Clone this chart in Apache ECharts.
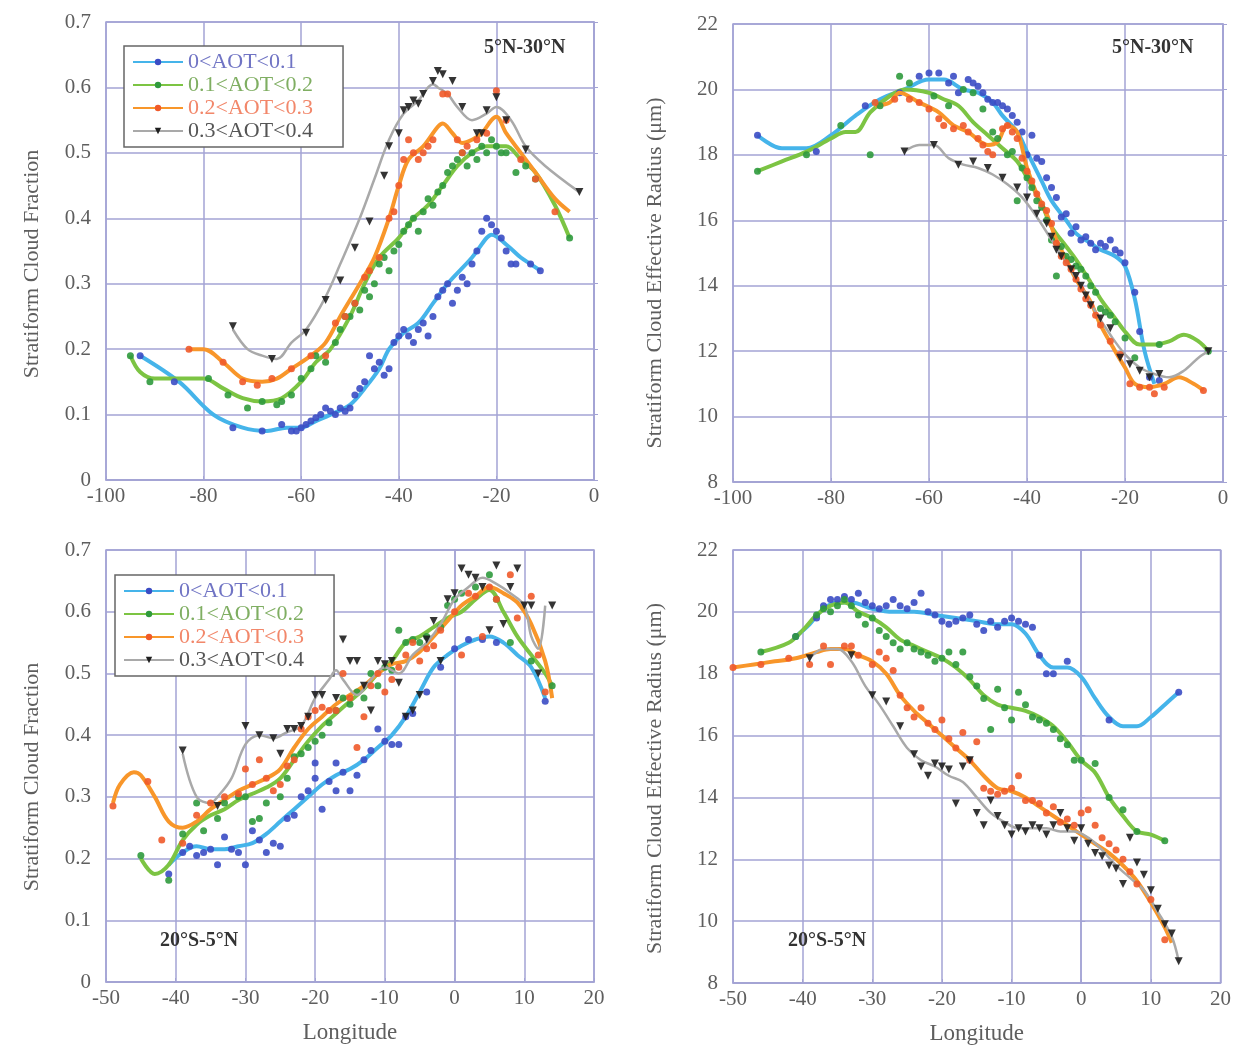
<!DOCTYPE html>
<html>
<head>
<meta charset="utf-8">
<script src="https://cdn.jsdelivr.net/npm/echarts@6/dist/echarts.min.js"></script>
<style>
  html, body { margin: 0; padding: 0; background: #fff; }
  #chart { width: 1234px; height: 1048px; }
</style>
</head>
<body>
<div id="chart"></div>
<script>
// ---------- data ----------
const bandNames = ['0<AOT<0.1', '0.1<AOT<0.2', '0.2<AOT<0.3', '0.3<AOT<0.4'];

// panel A: cloud fraction, 5°N-30°N (longitude, fraction)
const cfNorthBlueLine = [[-93,0.19],[-85,0.15],[-78,0.10],[-72,0.08],[-67,0.075],[-63,0.08],[-60,0.08],[-57,0.09],[-54,0.10],[-50,0.115],[-47,0.14],[-44,0.17],[-42,0.20],[-39,0.225],[-36,0.24],[-33,0.27],[-30,0.30],[-25,0.34],[-22,0.37],[-21,0.375],[-18,0.36],[-15,0.34],[-13,0.33],[-11,0.32]];
const cfNorthBluePts = [[-93,0.19],[-86,0.15],[-74,0.08],[-68,0.075],[-64,0.085],[-62,0.075],[-61,0.075],[-60,0.08],[-59,0.085],[-58,0.09],[-57,0.095],[-56,0.10],[-55,0.11],[-54,0.105],[-53,0.10],[-52,0.11],[-51,0.105],[-50,0.11],[-49,0.13],[-48,0.14],[-47,0.15],[-46,0.19],[-45,0.17],[-44,0.18],[-43,0.16],[-42,0.17],[-41,0.21],[-40,0.22],[-39,0.23],[-38,0.22],[-37,0.21],[-36,0.23],[-35,0.24],[-34,0.22],[-33,0.25],[-32,0.28],[-31,0.29],[-30,0.30],[-29,0.27],[-28,0.29],[-27,0.31],[-26,0.30],[-25,0.33],[-24,0.35],[-23,0.38],[-22,0.40],[-21,0.39],[-20,0.38],[-19,0.37],[-18,0.35],[-17,0.33],[-16,0.33],[-13,0.33],[-11,0.32]];
const cfNorthGreenLine = [[-95,0.19],[-93,0.165],[-90,0.155],[-85,0.155],[-80,0.155],[-76,0.14],[-72,0.125],[-68,0.12],[-64,0.125],[-60,0.15],[-57,0.18],[-54,0.20],[-50,0.25],[-47,0.30],[-44,0.34],[-40,0.37],[-37,0.40],[-34,0.42],[-31,0.45],[-28,0.48],[-25,0.50],[-22,0.51],[-20,0.51],[-18,0.51],[-15,0.49],[-12,0.47],[-8,0.42],[-5,0.37]];
const cfNorthGreenPts = [[-95,0.19],[-91,0.15],[-79,0.155],[-75,0.13],[-71,0.11],[-68,0.12],[-65,0.115],[-64,0.12],[-62,0.13],[-60,0.155],[-58,0.17],[-57,0.19],[-55,0.18],[-53,0.21],[-52,0.23],[-51,0.25],[-50,0.25],[-49,0.27],[-48,0.26],[-47,0.29],[-46,0.28],[-45,0.30],[-44,0.33],[-43,0.34],[-42,0.32],[-41,0.35],[-40,0.36],[-39,0.38],[-38,0.39],[-37,0.40],[-36,0.38],[-35,0.41],[-34,0.43],[-33,0.42],[-32,0.44],[-31,0.45],[-30,0.47],[-29,0.48],[-28,0.49],[-27,0.50],[-26,0.48],[-25,0.50],[-24,0.49],[-23,0.51],[-22,0.50],[-21,0.52],[-20,0.51],[-19,0.50],[-18,0.50],[-16,0.47],[-14,0.48],[-12,0.46],[-5,0.37]];
const cfNorthOrangeLine = [[-83,0.20],[-80,0.20],[-76,0.18],[-72,0.155],[-68,0.15],[-65,0.155],[-62,0.17],[-58,0.19],[-55,0.21],[-52,0.25],[-48,0.30],[-45,0.34],[-42,0.40],[-40,0.45],[-38,0.49],[-35,0.51],[-32,0.54],[-31,0.545],[-29,0.53],[-27,0.515],[-25,0.52],[-23,0.53],[-21,0.55],[-20,0.555],[-18,0.53],[-15,0.50],[-12,0.47],[-8,0.43],[-5,0.41]];
const cfNorthOrangePts = [[-83,0.20],[-76,0.18],[-72,0.15],[-69,0.145],[-66,0.155],[-62,0.17],[-58,0.19],[-55,0.19],[-53,0.24],[-51,0.25],[-49,0.27],[-47,0.31],[-46,0.32],[-44,0.34],[-42,0.40],[-41,0.41],[-40,0.45],[-39,0.49],[-38,0.52],[-37,0.50],[-36,0.49],[-35,0.50],[-34,0.51],[-33,0.52],[-31,0.59],[-30,0.59],[-28,0.52],[-27,0.50],[-26,0.51],[-24,0.52],[-22,0.53],[-20,0.595],[-18,0.55],[-15,0.49],[-12,0.46],[-8,0.41]];
const cfNorthBlackLine = [[-74,0.23],[-71,0.20],[-68,0.19],[-65,0.185],[-62,0.21],[-59,0.23],[-55,0.28],[-52,0.33],[-48,0.40],[-45,0.46],[-42,0.52],[-39,0.56],[-36,0.58],[-34,0.60],[-33,0.605],[-32,0.60],[-30,0.59],[-28,0.57],[-25,0.55],[-22,0.56],[-20,0.57],[-17,0.55],[-14,0.51],[-10,0.48],[-3,0.44]];
const cfNorthBlackPts = [[-74,0.235],[-66,0.185],[-59,0.225],[-55,0.275],[-52,0.305],[-49,0.355],[-46,0.395],[-43,0.465],[-42,0.51],[-40,0.53],[-39,0.565],[-38,0.57],[-37,0.58],[-36,0.575],[-35,0.59],[-33,0.61],[-32,0.625],[-31,0.62],[-29,0.61],[-27,0.57],[-24,0.53],[-23,0.53],[-22,0.565],[-20,0.585],[-18,0.55],[-14,0.505],[-3,0.44]];

// panel B: effective radius, 5°N-30°N (longitude, µm)
const reNorthBlueLine = [[-95,18.6],[-90,18.2],[-85,18.2],[-80,18.6],[-75,19.2],[-70,19.7],[-65,20.0],[-60,20.3],[-57,20.3],[-53,20.0],[-50,19.9],[-47,19.6],[-45,19.2],[-42,18.7],[-40,18.1],[-37,17.2],[-35,16.6],[-32,16.0],[-30,15.6],[-27,15.3],[-25,15.1],[-22,14.9],[-20,14.6],[-18,13.6],[-16,12.0],[-14,11.0]];
const reNorthBluePts = [[-95,18.6],[-83,18.1],[-73,19.5],[-66,19.9],[-62,20.4],[-60,20.5],[-58,20.5],[-56,20.2],[-55,20.4],[-54,19.9],[-52,20.3],[-51,20.2],[-50,20.1],[-49,19.9],[-48,19.7],[-47,19.6],[-46,19.6],[-45,19.5],[-44,19.4],[-43,19.2],[-42,19.0],[-41,18.7],[-40,18.0],[-39,18.6],[-38,17.9],[-37,17.8],[-36,17.3],[-35,17.0],[-34,16.7],[-33,16.1],[-32,16.2],[-31,15.6],[-30,15.8],[-29,15.4],[-28,15.5],[-27,15.3],[-26,15.1],[-25,15.3],[-24,15.2],[-23,15.4],[-22,15.1],[-21,15.0],[-20,14.7],[-18,13.8],[-17,12.6],[-15,11.2],[-13,11.1]];
const reNorthGreenLine = [[-95,17.5],[-90,17.8],[-85,18.1],[-80,18.5],[-77,18.7],[-75,18.7],[-72,19.3],[-68,19.8],[-65,20.0],[-60,19.9],[-57,19.7],[-54,19.5],[-51,19.0],[-48,18.6],[-45,18.2],[-42,17.8],[-40,17.3],[-37,16.5],[-35,15.8],[-32,15.2],[-30,14.8],[-27,14.1],[-25,13.6],[-22,13.0],[-20,12.6],[-17,12.2],[-14,12.2],[-11,12.3],[-8,12.5],[-5,12.3],[-3,12.0]];
const reNorthGreenPts = [[-95,17.5],[-85,18.0],[-78,18.9],[-72,18.0],[-70,19.5],[-66,20.4],[-64,20.2],[-59,19.8],[-56,19.5],[-53,20.0],[-51,19.9],[-49,19.4],[-47,18.7],[-46,18.5],[-44,18.0],[-43,18.1],[-42,16.6],[-41,17.6],[-40,17.3],[-39,17.0],[-38,16.6],[-37,16.4],[-36,16.0],[-35,15.4],[-34,14.3],[-33,15.2],[-32,14.9],[-31,14.8],[-30,14.6],[-29,14.5],[-28,14.3],[-27,14.0],[-26,13.8],[-25,13.3],[-24,13.2],[-23,13.1],[-22,12.9],[-20,12.4],[-18,11.8],[-13,12.2],[-3,12.0]];
const reNorthOrangeLine = [[-71,19.5],[-68,19.6],[-66,19.9],[-62,19.6],[-58,19.3],[-55,18.9],[-52,18.7],[-48,18.3],[-46,18.4],[-44,18.9],[-42,18.7],[-40,17.6],[-38,16.8],[-36,16.2],[-34,15.4],[-32,14.8],[-30,14.2],[-27,13.5],[-25,12.8],[-22,12.0],[-20,11.5],[-18,11.0],[-15,10.9],[-12,11.0],[-9,11.2],[-6,11.0],[-4,10.8]];
const reNorthOrangePts = [[-71,19.6],[-67,19.7],[-64,19.7],[-62,19.6],[-60,19.4],[-58,19.1],[-57,18.9],[-55,18.8],[-53,18.9],[-52,18.7],[-50,18.5],[-49,18.3],[-48,18.1],[-47,18.0],[-45,18.8],[-44,18.9],[-43,18.7],[-42,18.5],[-41,17.9],[-40,17.5],[-39,17.2],[-38,16.8],[-37,16.5],[-36,16.3],[-35,15.9],[-34,15.3],[-33,14.9],[-32,14.7],[-31,14.5],[-30,14.2],[-29,13.9],[-28,13.6],[-27,13.4],[-26,13.1],[-25,12.8],[-23,12.3],[-21,11.9],[-19,11.0],[-17,10.9],[-15,10.9],[-14,10.7],[-12,10.9],[-4,10.8]];
const reNorthBlackLine = [[-65,18.1],[-62,18.3],[-59,18.3],[-56,17.9],[-53,17.7],[-50,17.6],[-47,17.4],[-44,17.1],[-41,16.7],[-38,16.1],[-35,15.4],[-32,14.7],[-29,14.0],[-26,13.2],[-23,12.5],[-20,11.9],[-17,11.5],[-14,11.3],[-11,11.2],[-8,11.4],[-5,11.8],[-3,12.0]];
const reNorthBlackPts = [[-65,18.1],[-59,18.3],[-54,17.7],[-51,17.8],[-48,17.6],[-45,17.3],[-42,17.0],[-40,16.7],[-38,16.2],[-36,15.9],[-35,15.5],[-34,15.1],[-33,14.9],[-31,14.5],[-30,14.3],[-29,14.0],[-28,13.7],[-27,13.4],[-25,13.0],[-23,12.7],[-21,11.8],[-19,11.6],[-17,11.4],[-15,11.2],[-13,11.3],[-3,12.0]];

// panel C: cloud fraction, 20°S-5°N
const cfSouthBlueLine = [[-41,0.19],[-39,0.21],[-37,0.22],[-35,0.215],[-33,0.215],[-31,0.22],[-29,0.225],[-27,0.24],[-25,0.26],[-23,0.28],[-21,0.30],[-19,0.32],[-17,0.335],[-15,0.345],[-13,0.36],[-11,0.38],[-9,0.40],[-7,0.43],[-5,0.47],[-3,0.51],[-1,0.53],[1,0.545],[3,0.555],[5,0.56],[7,0.55],[9,0.53],[11,0.51],[13,0.46]];
const cfSouthBluePts = [[-41,0.175],[-39,0.21],[-38,0.22],[-37,0.205],[-36,0.21],[-35,0.215],[-34,0.19],[-33,0.235],[-32,0.215],[-31,0.21],[-30,0.19],[-29,0.245],[-28,0.23],[-27,0.21],[-26,0.225],[-25,0.22],[-24,0.265],[-23,0.27],[-22,0.30],[-21,0.31],[-20,0.355],[-20,0.33],[-19,0.28],[-18,0.325],[-17,0.355],[-17,0.31],[-16,0.34],[-15,0.31],[-14,0.335],[-13,0.36],[-12,0.375],[-11,0.41],[-10,0.39],[-9,0.385],[-8,0.385],[-7,0.43],[-6,0.435],[-4,0.47],[-2,0.51],[0,0.54],[2,0.555],[4,0.555],[6,0.55],[13,0.455]];
const cfSouthGreenLine = [[-45,0.20],[-43,0.175],[-41,0.19],[-39,0.23],[-37,0.255],[-35,0.27],[-33,0.28],[-31,0.295],[-29,0.305],[-27,0.315],[-25,0.33],[-23,0.36],[-21,0.39],[-19,0.415],[-17,0.435],[-15,0.455],[-13,0.475],[-11,0.50],[-9,0.52],[-7,0.55],[-5,0.56],[-3,0.575],[-1,0.59],[1,0.60],[3,0.62],[5,0.635],[7,0.60],[9,0.56],[11,0.53],[13,0.50],[14,0.48]];
const cfSouthGreenPts = [[-45,0.205],[-41,0.165],[-39,0.24],[-37,0.29],[-36,0.245],[-34,0.265],[-33,0.29],[-31,0.30],[-30,0.30],[-29,0.26],[-28,0.265],[-27,0.29],[-25,0.30],[-24,0.33],[-23,0.365],[-22,0.37],[-21,0.38],[-20,0.39],[-19,0.40],[-18,0.42],[-17,0.44],[-16,0.46],[-15,0.45],[-14,0.47],[-13,0.46],[-12,0.50],[-11,0.48],[-10,0.51],[-9,0.505],[-8,0.57],[-7,0.55],[-6,0.555],[-5,0.55],[-4,0.56],[-2,0.575],[-1,0.61],[0,0.62],[1,0.63],[3,0.64],[5,0.66],[6,0.62],[8,0.55],[11,0.52],[14,0.48]];
const cfSouthOrangeLine = [[-49,0.29],[-48,0.32],[-46,0.34],[-45,0.335],[-43,0.30],[-41,0.26],[-39,0.25],[-37,0.26],[-35,0.28],[-33,0.295],[-31,0.31],[-29,0.32],[-27,0.33],[-25,0.345],[-23,0.38],[-21,0.41],[-19,0.43],[-17,0.45],[-15,0.465],[-13,0.48],[-11,0.50],[-9,0.515],[-7,0.52],[-5,0.535],[-3,0.56],[-1,0.585],[1,0.61],[3,0.625],[5,0.64],[7,0.63],[9,0.615],[11,0.58],[13,0.52],[14,0.46]];
const cfSouthOrangePts = [[-49,0.285],[-44,0.325],[-42,0.23],[-39,0.225],[-37,0.27],[-35,0.29],[-33,0.30],[-31,0.305],[-30,0.345],[-29,0.32],[-28,0.36],[-27,0.33],[-26,0.31],[-25,0.32],[-24,0.35],[-23,0.36],[-22,0.41],[-21,0.43],[-20,0.44],[-19,0.445],[-18,0.44],[-17,0.44],[-16,0.50],[-15,0.46],[-14,0.38],[-13,0.43],[-12,0.48],[-11,0.50],[-10,0.47],[-9,0.49],[-8,0.51],[-7,0.53],[-6,0.55],[-5,0.52],[-4,0.54],[-3,0.545],[-2,0.57],[0,0.60],[1,0.53],[2,0.63],[3,0.625],[4,0.56],[5,0.64],[6,0.62],[8,0.66],[9,0.59],[11,0.625],[12,0.53],[13,0.47]];
const cfSouthBlackLine = [[-39,0.37],[-37,0.30],[-35,0.29],[-34,0.30],[-32,0.33],[-30,0.385],[-28,0.40],[-26,0.395],[-24,0.405],[-22,0.415],[-20,0.46],[-18,0.49],[-17,0.505],[-16,0.49],[-14,0.465],[-12,0.49],[-10,0.51],[-8,0.50],[-6,0.53],[-4,0.55],[-2,0.58],[0,0.62],[2,0.64],[4,0.655],[6,0.645],[8,0.63],[10,0.61],[11,0.56],[12,0.54],[13,0.61]];
const cfSouthBlackPts = [[-39,0.375],[-34,0.285],[-30,0.415],[-28,0.40],[-26,0.395],[-25,0.37],[-24,0.41],[-23,0.41],[-22,0.415],[-21,0.43],[-20,0.465],[-19,0.465],[-17,0.46],[-16,0.555],[-15,0.52],[-14,0.52],[-13,0.48],[-12,0.44],[-11,0.52],[-10,0.515],[-9,0.52],[-8,0.485],[-7,0.43],[-6,0.44],[-5,0.465],[-4,0.555],[-3,0.585],[-2,0.52],[-1,0.62],[0,0.63],[1,0.67],[2,0.66],[3,0.655],[4,0.64],[5,0.57],[6,0.675],[7,0.58],[8,0.64],[9,0.67],[10,0.61],[11,0.61],[12,0.50],[14,0.61]];

// panel D: effective radius, 20°S-5°N
const reSouthBlueLine = [[-41,19.2],[-39,19.6],[-37,20.1],[-35,20.3],[-33,20.3],[-30,20.1],[-27,20.0],[-24,20.0],[-21,19.9],[-18,19.8],[-15,19.7],[-12,19.6],[-10,19.6],[-8,19.3],[-6,18.6],[-4,18.2],[-2,18.2],[0,17.9],[2,17.2],[4,16.6],[6,16.3],[8,16.3],[10,16.6],[12,17.0],[14,17.4]];
const reSouthBluePts = [[-41,19.2],[-38,19.8],[-37,20.2],[-36,20.4],[-35,20.4],[-34,20.5],[-33,20.4],[-32,20.6],[-31,20.3],[-30,20.2],[-29,20.1],[-28,20.2],[-27,20.4],[-26,20.2],[-25,20.1],[-24,20.3],[-23,20.6],[-22,20.0],[-21,19.9],[-20,19.7],[-19,19.6],[-18,19.7],[-17,19.8],[-16,19.9],[-15,19.6],[-14,19.4],[-13,19.7],[-12,19.5],[-11,19.7],[-10,19.8],[-9,19.7],[-8,19.6],[-7,19.5],[-6,18.6],[-5,18.0],[-4,18.0],[-2,18.4],[4,16.5],[14,17.4]];
const reSouthGreenLine = [[-46,18.7],[-42,19.0],[-40,19.4],[-38,19.9],[-36,20.2],[-34,20.3],[-32,20.0],[-30,19.8],[-28,19.5],[-26,19.1],[-24,18.9],[-22,18.7],[-20,18.5],[-18,18.2],[-16,17.8],[-14,17.3],[-12,17.0],[-10,16.9],[-8,16.8],[-6,16.6],[-4,16.3],[-2,15.8],[0,15.2],[2,14.8],[4,14.0],[6,13.4],[8,12.9],[10,12.8],[12,12.6]];
const reSouthGreenPts = [[-46,18.7],[-41,19.2],[-38,19.9],[-37,20.1],[-36,20.0],[-35,20.2],[-34,20.4],[-33,20.2],[-32,19.9],[-31,19.6],[-30,19.8],[-29,19.4],[-28,19.2],[-27,19.0],[-26,18.8],[-25,19.0],[-24,18.8],[-23,18.7],[-22,18.6],[-21,18.4],[-20,18.5],[-19,18.7],[-18,18.3],[-17,18.7],[-16,17.9],[-15,17.6],[-14,17.2],[-13,16.2],[-12,17.5],[-11,16.9],[-10,16.5],[-9,17.4],[-8,17.0],[-7,16.6],[-6,16.5],[-5,16.4],[-4,16.2],[-3,15.9],[-2,15.7],[-1,15.2],[0,15.2],[2,15.1],[4,14.0],[6,13.6],[8,12.9],[12,12.6]];
const reSouthOrangeLine = [[-50,18.2],[-47,18.3],[-44,18.4],[-41,18.5],[-38,18.7],[-36,18.8],[-34,18.8],[-32,18.6],[-30,18.4],[-28,18.0],[-26,17.3],[-24,16.8],[-22,16.4],[-20,16.0],[-18,15.6],[-16,15.2],[-14,14.7],[-12,14.3],[-10,14.2],[-8,14.0],[-6,13.7],[-4,13.4],[-2,13.1],[0,12.8],[2,12.5],[4,12.2],[6,11.8],[8,11.3],[10,10.6],[12,9.8],[13,9.3]];
const reSouthOrangePts = [[-50,18.2],[-46,18.3],[-42,18.5],[-39,18.3],[-37,18.9],[-36,18.3],[-34,18.9],[-33,18.9],[-32,18.6],[-30,18.3],[-29,18.7],[-28,18.5],[-27,18.1],[-26,17.3],[-25,16.9],[-24,16.6],[-23,16.9],[-22,16.4],[-21,16.2],[-20,16.5],[-19,15.9],[-18,15.6],[-17,16.1],[-16,15.2],[-15,15.8],[-14,14.3],[-13,14.2],[-12,14.1],[-11,14.2],[-10,14.3],[-9,14.7],[-8,13.9],[-7,13.9],[-6,13.8],[-5,13.5],[-4,13.7],[-3,13.2],[-2,13.3],[-1,13.1],[0,13.5],[1,13.6],[2,13.1],[3,12.7],[4,12.5],[5,12.3],[6,12.0],[7,11.6],[8,11.2],[10,10.7],[12,9.4]];
const reSouthBlackLine = [[-39,18.5],[-37,18.8],[-35,18.8],[-33,18.4],[-31,17.6],[-29,17.0],[-27,16.3],[-25,15.6],[-23,15.2],[-21,15.0],[-19,14.7],[-17,14.5],[-15,14.0],[-13,13.5],[-11,13.2],[-9,13.0],[-7,13.0],[-5,13.0],[-3,12.9],[-1,12.9],[1,12.7],[3,12.3],[5,11.8],[7,11.4],[9,11.0],[11,10.3],[13,9.5],[14,8.7]];
const reSouthBlackPts = [[-39,18.5],[-33,18.6],[-30,17.3],[-28,17.1],[-26,16.3],[-24,15.4],[-23,15.0],[-22,14.7],[-21,15.1],[-20,15.0],[-19,14.9],[-18,13.8],[-17,15.0],[-16,15.2],[-15,13.5],[-14,13.1],[-13,13.9],[-12,13.4],[-11,13.1],[-10,12.8],[-9,13.0],[-8,12.9],[-7,13.1],[-6,13.0],[-5,12.8],[-4,13.1],[-3,13.5],[-2,13.0],[-1,12.6],[0,13.0],[1,12.5],[2,12.2],[3,12.1],[4,11.8],[5,11.7],[6,11.2],[7,12.7],[8,11.9],[9,11.5],[10,11.0],[11,10.4],[12,9.9],[13,9.6],[14,8.7]];

// ---------- styles ----------
const lineColors = ['#45b4ea', '#7cc443', '#f8962a', '#a9a9a9'];
const dotColors = ['#3b4cc4', '#2f9a3d', '#f05a2a', '#1e1e1e'];
const textColors = ['#7074c4', '#7fae62', '#f2876a', '#555555'];
const lineWidths = [4, 4, 4, 2.5];
const symbols = ['circle', 'circle', 'circle', 'triangle'];
const symbolRotates = [0, 0, 0, 180];
const gridColor = '#a3a3d4';
const labelColor = '#5e5e5e';
const serif = '"Liberation Serif", "DejaVu Serif", serif';

const panels = [
  { lines: [cfNorthBlueLine, cfNorthGreenLine, cfNorthOrangeLine, cfNorthBlackLine], pts: [cfNorthBluePts, cfNorthGreenPts, cfNorthOrangePts, cfNorthBlackPts] },
  { lines: [reNorthBlueLine, reNorthGreenLine, reNorthOrangeLine, reNorthBlackLine], pts: [reNorthBluePts, reNorthGreenPts, reNorthOrangePts, reNorthBlackPts] },
  { lines: [cfSouthBlueLine, cfSouthGreenLine, cfSouthOrangeLine, cfSouthBlackLine], pts: [cfSouthBluePts, cfSouthGreenPts, cfSouthOrangePts, cfSouthBlackPts] },
  { lines: [reSouthBlueLine, reSouthGreenLine, reSouthOrangeLine, reSouthBlackLine], pts: [reSouthBluePts, reSouthGreenPts, reSouthOrangePts, reSouthBlackPts] },
];

const grids = [
  { left: 106, top: 22, width: 488, height: 458 },
  { left: 733, top: 24, width: 490, height: 458 },
  { left: 106, top: 550, width: 488, height: 432 },
  { left: 733, top: 550, width: 489, height: 433 },
];

const xRanges = [[-100, 0, 20], [-100, 0, 20], [-50, 20, 10], [-50, 20, 10]];
const yRanges = [[0, 0.7, 0.1], [8, 22, 2], [0, 0.7, 0.1], [8, 22, 2]];
const yNames = ['Stratiform Cloud Fraction', 'Stratiform Cloud Effective Radius (\u03bcm)', 'Stratiform Cloud Fraction', 'Stratiform Cloud Effective Radius (\u03bcm)'];
// y titles sit a little below the middle of each plot
const yNameShift = [26, 40, 22, 24];

const axisLineStyle = { lineStyle: { color: gridColor, width: 1.5 } };

const xAxes = grids.map((g, i) => ({
  gridIndex: i,
  type: 'value',
  min: xRanges[i][0],
  max: xRanges[i][1],
  interval: xRanges[i][2],
  name: i >= 2 ? 'Longitude' : '',
  nameLocation: 'middle',
  nameGap: 39,
  nameTextStyle: { fontFamily: serif, fontSize: 23, color: labelColor },
  axisLine: axisLineStyle,
  axisTick: { show: true, inside: true, length: 4, lineStyle: { color: gridColor } },
  axisLabel: { fontFamily: serif, fontSize: 21, color: labelColor, margin: 6 },
  splitLine: { show: true, lineStyle: { color: gridColor, width: 1.5 } },
}));

const yAxes = grids.map((g, i) => ({
  gridIndex: i,
  type: 'value',
  min: yRanges[i][0],
  max: yRanges[i][1],
  interval: yRanges[i][2],
  name: yNames[i],
  nameLocation: 'middle',
  nameGap: i % 2 === 0 ? 63 : 67,
  nameTextStyle: { fontFamily: serif, fontSize: 22, color: labelColor, padding: [0, yNameShift[i], 0, 0] },
  axisLine: axisLineStyle,
  axisTick: { show: true, inside: true, length: 4, lineStyle: { color: gridColor } },
  axisLabel: { fontFamily: serif, fontSize: 21, color: labelColor, margin: 15 },
  splitLine: { show: true, lineStyle: { color: gridColor, width: 1.5 } },
}));

const series = [];
panels.forEach((p, gi) => {
  for (let k = 0; k < 4; k++) {
    series.push({
      name: bandNames[k],
      type: 'line',
      xAxisIndex: gi,
      yAxisIndex: gi,
      data: p.lines[k],
      smooth: 0.35,
      showSymbol: false,
      symbol: symbols[k],
      symbolRotate: symbolRotates[k],
      itemStyle: { color: dotColors[k] },
      lineStyle: { color: lineColors[k], width: lineWidths[k] },
      z: 2 + k,
      silent: true,
    });
    series.push({
      name: bandNames[k] + ' obs',
      type: 'scatter',
      xAxisIndex: gi,
      yAxisIndex: gi,
      data: p.pts[k],
      symbol: symbols[k],
      symbolRotate: symbolRotates[k],
      symbolSize: k === 3 ? 8 : 7,
      itemStyle: { color: dotColors[k], opacity: 0.9 },
      z: 3 + k,
      silent: true,
    });
  }
});

const legendBase = {
  orient: 'vertical',
  itemWidth: 50,
  itemHeight: 8,
  itemGap: 1,
  padding: [5, 30, 5, 8],
  borderColor: '#666',
  borderWidth: 1.5,
  backgroundColor: '#fff',
  selectedMode: false,
  textStyle: { fontFamily: serif, fontSize: 22 },
  data: bandNames.map((n, k) => ({ name: n, textStyle: { color: textColors[k] } })),
};

const regionText = (x, y, text) => ({
  type: 'text',
  left: x,
  top: y,
  style: { text: text, font: 'bold 20px ' + serif, fill: '#333' },
  z: 20,
});

const option = {
  backgroundColor: '#ffffff',
  animation: false,
  grid: grids.map(g => Object.assign({ show: true, borderColor: gridColor, borderWidth: 1.5 }, g)),
  xAxis: xAxes,
  yAxis: yAxes,
  legend: [
    Object.assign({ left: 124, top: 46 }, legendBase),
    Object.assign({ left: 115, top: 575 }, legendBase),
  ],
  graphic: [
    regionText(484, 38, '5\u00b0N-30\u00b0N'),
    regionText(1112, 38, '5\u00b0N-30\u00b0N'),
    regionText(160, 931, '20\u00b0S-5\u00b0N'),
    regionText(788, 931, '20\u00b0S-5\u00b0N'),
  ],
  series: series,
};

const chart = echarts.init(document.getElementById('chart'), null, { renderer: 'canvas' });
chart.setOption(option);
window.addEventListener('resize', () => chart.resize());
</script>
</body>
</html>
